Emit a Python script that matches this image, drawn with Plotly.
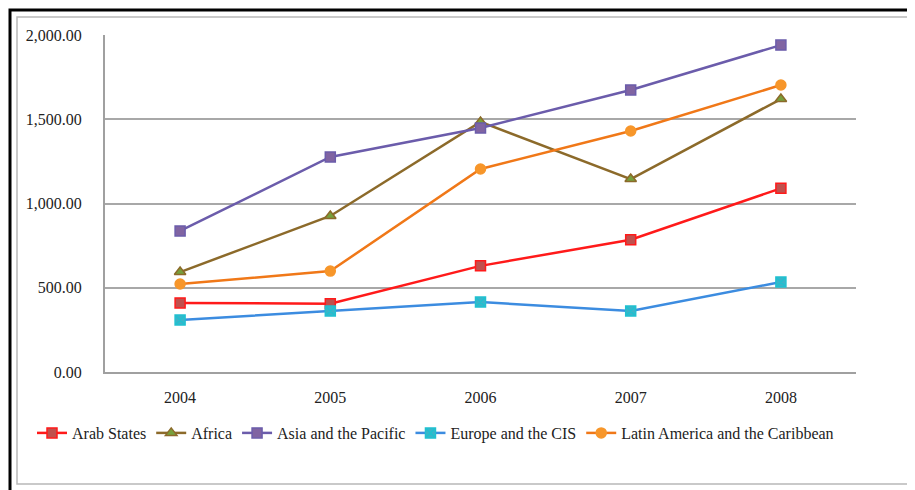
import plotly.graph_objects as go

years = ['2004', '2005', '2006', '2007', '2008']
arab_states = [410, 405, 630, 785, 1090]
africa = [593, 926, 1484, 1145, 1620]
asia_pacific = [837, 1276, 1448, 1674, 1940]
europe_cis = [309, 362, 415, 362, 534]
latin_america = [522, 599, 1205, 1430, 1703]

series = [
    ('Arab States', arab_states, '#FF1A1A', 'square', '#C0504D', '#FF1A1A'),
    ('Africa', africa, '#8C6A2A', 'triangle-up', '#77A03C', '#8C6A2A'),
    ('Asia and the Pacific', asia_pacific, '#6B5CAB', 'square', '#8064A2', '#6B5CAB'),
    ('Europe and the CIS', europe_cis, '#3C8CE0', 'square-x', '#3CB4C8', '#20C0D0'),
    ('Latin America and the Caribbean', latin_america, '#F07818', 'circle', '#F7962A', '#F7962A'),
]

fig = go.Figure()
for name, vals, line_color, symbol, fill, edge in series:
    fig.add_trace(go.Scatter(
        x=years, y=vals, name=name, mode='lines+markers',
        line=dict(color=line_color, width=2.5),
        marker=dict(symbol=symbol, size=10, color=fill,
                    line=dict(color=edge, width=1.5)),
    ))

# the page body adds 8px, so work in figure pixels = screen pixels - 8
OFF = 8
FW, FH = 915 - OFF, 490 - OFF
L, T = 105 - OFF, 35 - OFF
W, H = 751, 337
R, B = FW - L - W, FH - T - H


def px_x(p):
    return (p - OFF - L) / W


def px_y(p):
    return (T + H - (p - OFF)) / H


# page frame (black outer, grey inner), runs off the right/bottom edge
fig.add_shape(type='rect', xref='paper', yref='paper',
              x0=px_x(10), x1=px_x(940), y0=px_y(10), y1=px_y(510),
              line=dict(color='black', width=3), layer='below')
fig.add_shape(type='rect', xref='paper', yref='paper',
              x0=px_x(17), x1=px_x(935), y0=px_y(17), y1=px_y(484),
              line=dict(color='#B8B8B8', width=1.5), layer='below')

fig.update_layout(
    width=FW, height=FH,
    margin=dict(l=L, r=R, t=T, b=B),
    paper_bgcolor='white',
    plot_bgcolor='white',
    font_family='Liberation Serif',
    font_color='#222',
    font_size=16,
    showlegend=True,
    legend=dict(orientation='h', x=px_x(32), y=px_y(433), xanchor='left',
                yanchor='middle', font_size=16, itemwidth=30,
                tracegroupgap=0, bgcolor='rgba(0,0,0,0)'),
)
fig.update_xaxes(
    type='category', range=[-0.5, 4.5], showgrid=False, showline=True,
    linecolor='#A0A0A0', linewidth=2, ticks='', ticklabelstandoff=10,
)
fig.update_yaxes(
    range=[0, 2000], tickvals=[0, 500, 1000, 1500, 2000],
    tickformat=',.2f', showgrid=True, gridcolor='#A8A8A8', gridwidth=2,
    showline=True, linecolor='#A0A0A0', linewidth=2, zeroline=False,
    ticks='', ticklabelstandoff=18,
)

fig.write_html("out.html")
